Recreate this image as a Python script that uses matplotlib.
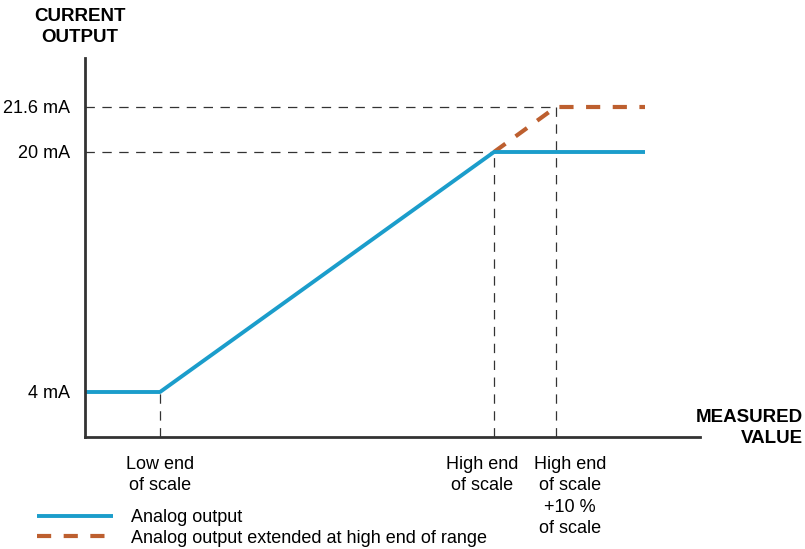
import matplotlib.pyplot as plt

plt.rcParams['font.family'] = ['Liberation Sans', 'DejaVu Sans']

# diagram coordinates (x: measured value, y: output level position)
x_points = ['Low end\nof scale', 'High end\nof scale', 'High end\nof scale\n+10 %\nof scale']
x_low, x_high, x_high10, x_end = 75, 409, 471, 560
y_labels = ['4 mA', '20 mA', '21.6 mA']
y_4ma, y_20ma, y_216ma = 45, 285, 330

analog_x = [0, x_low, x_high, x_end]
analog_y = [y_4ma, y_4ma, y_20ma, y_20ma]
ext_x = [x_high, x_high10, x_end]
ext_y = [y_20ma, y_216ma, y_216ma]

blue = '#1b9dcb'
orange = '#bd5f2f'
grey = '#333333'
fs = 13

fig = plt.figure(figsize=(8.05, 5.49), dpi=100)
ax = fig.add_axes([85 / 805, 112 / 549, 615 / 805, 379 / 549])
ax.set_xlim(0, 615)
ax.set_ylim(0, 379)

# guide lines
dash = dict(color=grey, lw=0.9, dashes=(7.5, 6))
ax.plot([0, x_high10], [y_216ma, y_216ma], **dash)
ax.plot([0, x_high], [y_20ma, y_20ma], **dash)
ax.plot([x_low, x_low], [0, y_4ma], **dash)
ax.plot([x_high, x_high], [0, y_20ma], **dash)
ax.plot([x_high10, x_high10], [0, y_216ma], **dash)

ax.plot(ext_x, ext_y, color=orange, lw=3, dashes=(3.4, 3.0),
        label='Analog output extended at high end of range')
ax.plot(analog_x, analog_y, color=blue, lw=2.8, solid_capstyle='butt',
        label='Analog output')

for s in ['top', 'right']:
    ax.spines[s].set_visible(False)
for s in ['left', 'bottom']:
    ax.spines[s].set_color(grey)
    ax.spines[s].set_linewidth(2)

ax.set_yticks([y_4ma, y_20ma, y_216ma])
ax.set_yticklabels(y_labels, fontsize=fs)
ax.set_xticks([])
ax.tick_params(axis='y', length=0, pad=11)

# x category labels
ax.text(x_low, -19, x_points[0], ha='center', va='top', fontsize=fs, linespacing=1.33)
ax.text(397, -19, x_points[1], ha='center', va='top', fontsize=fs, linespacing=1.33)
ax.text(485, -19, x_points[2], ha='center', va='top', fontsize=fs, linespacing=1.33)

fig.text(80 / 805, 1 - 8 / 549, 'CURRENT\nOUTPUT', ha='center', va='top',
         fontsize=13.5, fontweight='bold', linespacing=1.3)
fig.text(803 / 805, 1 - 409 / 549, 'MEASURED\nVALUE', ha='right', va='top',
         fontsize=13.5, fontweight='bold', linespacing=1.3, multialignment='right')

handles, labels = ax.get_legend_handles_labels()
fig.legend(handles[::-1], labels[::-1], loc='center left',
           bbox_to_anchor=(21 / 805, 1 - 528 / 549), frameon=False, fontsize=fs,
           handlelength=4.2, handletextpad=1.0, labelspacing=0.2)

plt.savefig('out.png', dpi=100)
